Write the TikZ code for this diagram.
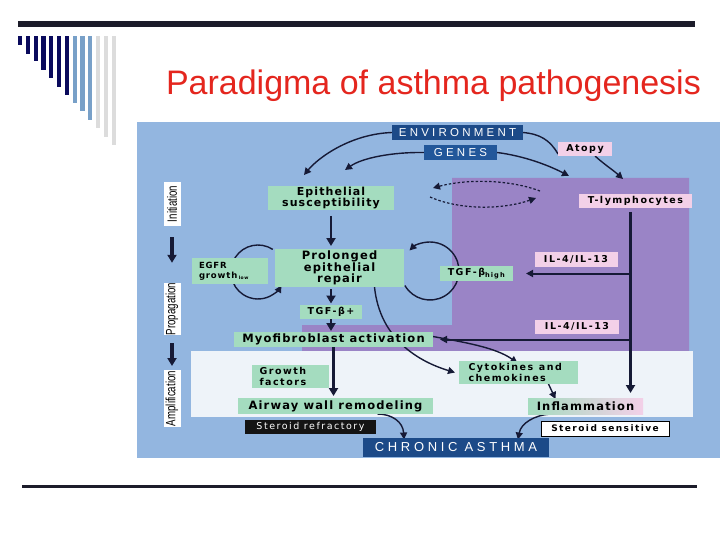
\documentclass[tikz,border=0pt]{standalone}
\usepackage{fontspec}
\setmainfont{Liberation Sans}
\newfontfamily\labfont[LetterSpace=10]{DejaVu Sans}
\newfontfamily\smlfont[LetterSpace=16]{DejaVu Sans}
\newfontfamily\capsfont[LetterSpace=28]{Liberation Sans}
\usetikzlibrary{arrows.meta}
\definecolor{bgblue}{HTML}{93B6E0}
\definecolor{purp}{HTML}{9A84C6}
\definecolor{pale}{HTML}{EEF3F9}
\definecolor{mint}{HTML}{A4DCBF}
\definecolor{pinkb}{HTML}{F3D0E8}
\definecolor{navy}{HTML}{1C4A88}
\definecolor{navy2}{HTML}{22579A}
\definecolor{ink}{HTML}{161A36}
\definecolor{titlered}{HTML}{E4261E}
\definecolor{bardark}{HTML}{0A0A5C}
\definecolor{barmid}{HTML}{78A0C8}
\definecolor{barlight}{HTML}{DCDCDC}
\definecolor{rulecol}{HTML}{1C1C2A}
\pgfdeclarelayer{bg}\pgfdeclarelayer{conn}\pgfsetlayers{bg,conn,main}
\begin{document}
\begin{tikzpicture}[x=1pt,y=-1pt,
 every node/.style={inner sep=0pt, outer sep=0pt},
 gbox/.style={fill=mint, text=black, align=center, font=\fontsize{11.5}{11.5}\labfont\bfseries},
 gsmall/.style={gbox, font=\fontsize{9.5}{10.5}\smlfont\bfseries},
 pbox/.style={fill=pinkb, text=black, align=center, font=\fontsize{9.5}{10}\smlfont\bfseries},
 dbox/.style={fill=navy, text=white, font=\fontsize{11.5}{12}\capsfont},
 sidebox/.style={fill=white, rotate=90, minimum height=17pt, font=\fontsize{13.5}{13.5}\selectfont},
 arr/.style={draw=ink, line width=1.4pt, -{Triangle[length=7pt,width=7pt]}},
 bigarr/.style={draw=ink, line width=2.6pt, -{Triangle[length=8pt,width=9pt]}},
]
\useasboundingbox (0,0) rectangle (720,540);

% slide decoration
\fill[rulecol] (18,21) rectangle (695,27);
\foreach \x/\b/\c in {18/45/bardark,25.8/54/bardark,33.6/61/bardark,41.4/70/bardark,49.2/78/bardark,57/87/bardark,64.8/95/bardark,72.6/103/barmid,80.4/111/barmid,88.2/120/barmid,96/128/barlight,103.8/137/barlight,111.6/145/barlight}
  {\fill[\c] (\x,36) rectangle (\x+4.2,\b);}
\fill[rulecol] (22,484.8) rectangle (697,487.6);
\node[anchor=base west, text=titlered, font=\fontsize{34}{40}\selectfont] (title) at (166,95) {Paradigma of asthma pathogenesis};

% backgrounds
\begin{pgfonlayer}{bg}
\fill[bgblue] (137,122) rectangle (720,458);
\fill[purp] (452,178) -- (689,178) -- (689,351) -- (302,351) -- (302,325) -- (452,325) -- cycle;
\fill[pale] (191,351) rectangle (693,417);
\end{pgfonlayer}

% nodes
\node[dbox, minimum width=131pt, minimum height=15pt] (env) at (457.5,132.5) {ENVIRONMENT};
\node[dbox, fill=navy2, minimum width=73pt, minimum height=15pt] (genes) at (460.5,152.5) {GENES};
\node[pbox, minimum width=54pt, minimum height=14pt] (atopy) at (585,149) {Atopy};
\node[pbox, minimum width=113pt, minimum height=14pt] (tly) at (635.5,201) {T-lymphocytes};
\node[gbox, font=\fontsize{11}{11.5}\labfont\bfseries, minimum width=126pt, minimum height=24pt] (epi) at (331,198) {Epithelial\\susceptibility};
\node[gsmall, font=\fontsize{8.5}{10}\labfont\bfseries, minimum width=76pt, minimum height=26pt, align=left, text width=62pt] (egfr) at (230,271) {EGFR\\growth\,\raisebox{-1.5pt}{\fontsize{4.5}{5}\selectfont low}};
\node[gbox, minimum width=129pt, minimum height=38pt] (pro) at (339.5,268) {Prolonged\\epithelial\\repair};
\node[gsmall, minimum width=73pt, minimum height=15pt] (tgfh) at (476.5,273.5) {TGF-β\textsubscript{high}};
\node[pbox, minimum width=83pt, minimum height=15pt] (il1) at (576,259.5) {IL-4/IL-13};
\node[gsmall, minimum width=62pt, minimum height=14pt] (tgfp) at (331,311.5) {TGF-β+};
\node[pbox, minimum width=84pt, minimum height=14pt] (il2) at (577,326.5) {IL-4/IL-13};
\node[gbox, minimum width=199pt, minimum height=15pt] (myo) at (333.5,339.5) {Myofibroblast activation};
\node[gsmall, minimum width=77pt, minimum height=23pt, align=left, text width=62pt] (gf) at (290.5,376.5) {Growth\\factors};
\node[gsmall, minimum width=119pt, minimum height=23pt, align=left, text width=100pt] (cyt) at (518.5,372.5) {Cytokines\hspace{2.5pt} and\\chemokines};
\node[gbox, minimum width=195pt, minimum height=16pt] (aw) at (335.5,406) {Airway wall remodeling};
\node[gbox, left color=mint, right color=pinkb, minimum width=115pt, minimum height=16pt] (infl) at (585.5,406) {Inflammation};
\node[fill=black!92, text=white, minimum width=131pt, minimum height=14pt, font=\fontsize{9.5}{10}\smlfont] (sr) at (310.5,427) {Steroid refractory};
\node[fill=white, draw=black, line width=1pt, minimum width=128pt, minimum height=15pt, font=\fontsize{9}{10}\smlfont\bfseries] (ss) at (605,428.5) {Steroid sensitive};
\node[dbox, minimum width=186pt, minimum height=19pt, font=\fontsize{13}{13}\capsfont] (ca) at (456,447) {CHRONIC ASTHMA};

\node[sidebox, minimum width=44pt] (ini) at (172,204) {\scalebox{0.72}[1]{Initiation}};
\node[sidebox, minimum width=52pt] (prop) at (172,309) {\scalebox{0.72}[1]{Propagation}};
\node[sidebox, minimum width=57pt] (amp) at (172,398.5) {\scalebox{0.72}[1]{Amplification}};

% connectors
\begin{pgfonlayer}{conn}
\draw[bigarr, line width=3.2pt, shorten <=11pt, shorten >=20pt] (ini) -- (prop);
\draw[bigarr, line width=3.2pt, shorten <=8pt, shorten >=4pt] (prop) -- (amp);

\coordinate (pt1) at (623,179);
\coordinate (pt2) at (569,176);
\draw[arr] (env.west) .. controls (350,134) and (318,158) .. ([shift={(-27,-11)}]epi.north);
\draw[arr] (genes.west) .. controls (392,152) and (362,158) .. ([shift={(14,-16)}]epi.north);
\draw[draw=ink, line width=1.4pt] (env.east) .. controls (540,134) and (550,140) .. ([yshift=-5pt]atopy.west);
\draw[arr] ([xshift=10pt]atopy.south) .. controls (605,165) and (613,170) .. (pt1);
\draw[arr] (genes.east) .. controls (525,156) and (550,166) .. (pt2);

\coordinate (da) at (540,191);
\coordinate (db) at (433,188);
\coordinate (dc) at (430,197);
\coordinate (dd) at (536,198);
\draw[arr, line width=1.2pt, dash pattern=on 2.5pt off 2pt] (da) .. controls (505,178) and (462,180) .. (db);
\draw[arr, line width=1.2pt, dash pattern=on 2.5pt off 2pt] (dc) .. controls (462,211) and (505,209) .. (dd);

\draw[bigarr, shorten <=6pt, shorten >=3pt] (epi.south) -- (epi.south |- pro.north);
\draw[bigarr, shorten <=2pt, shorten >=1pt] (pro.south -| tgfp.north) -- (tgfp.north);
\draw[bigarr, shorten >=1pt] (tgfp.south) -- (tgfp.south |- myo.north);
\draw[bigarr, shorten >=2pt] (myo.south) -- (myo.south |- aw.north);

\coordinate (cL) at (258,272);
\draw[arr] ([shift={(-57:27)}]cL) arc[start angle=-57, end angle=-330, radius=27];
\coordinate (cR) at (430,271);
\draw[arr] ([shift={(150:29)}]cR) arc[start angle=150, end angle=-135, radius=29];

\coordinate (vtop) at ([xshift=-5pt]tly.south);
\draw[bigarr, line width=2.2pt, shorten <=4pt, shorten >=5pt] (vtop) -- (vtop |- infl.north);
\draw[arr, line width=2pt] (vtop |- tgfh) -- ([xshift=13pt]tgfh.east);
\draw[arr, line width=2pt] (vtop |- myo) -- ([xshift=7pt]myo.east);

\draw[arr] ([xshift=35pt]pro.south) .. controls (380,340) and (420,362) .. ([xshift=-4pt]cyt.west);
\draw[arr] ([yshift=3pt]myo.east) .. controls (462,342) and (495,347) .. ([xshift=-1pt,yshift=-2pt]cyt.north);
\draw[arr] ([xshift=30pt]cyt.south) -- ([xshift=-30pt,yshift=-1pt]infl.north);
\draw[arr] ([xshift=42pt]aw.south) .. controls (392,414) and (403,422) .. ([xshift=-52pt,yshift=-2pt]ca.north);
\draw[arr] ([xshift=-35pt]infl.south) .. controls (535,415) and (521,423) .. ([xshift=62pt,yshift=-2pt]ca.north);
\end{pgfonlayer}
\end{tikzpicture}
\end{document}
